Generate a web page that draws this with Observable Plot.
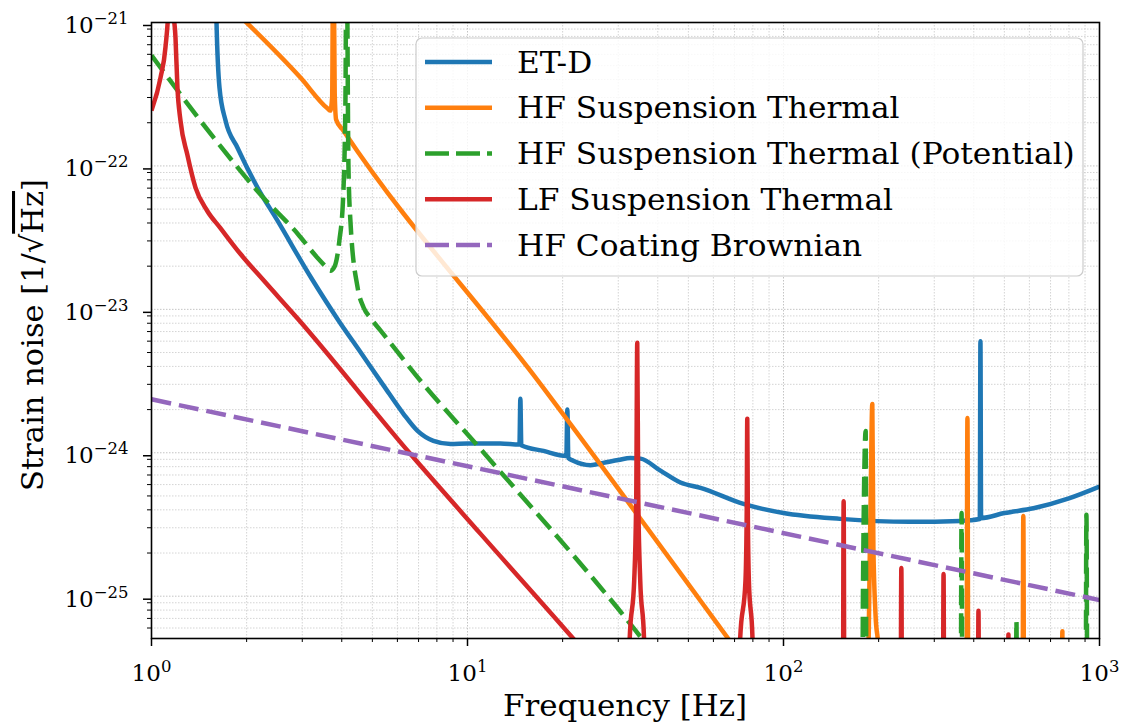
<!DOCTYPE html>
<html>
<head>
<meta charset="utf-8">
<script src="https://cdn.jsdelivr.net/npm/d3@7"></script>
<script src="https://cdn.jsdelivr.net/npm/@observablehq/plot@0.6"></script>
<style>
  html, body { margin: 0; padding: 0; background: #ffffff; }
  #chart svg { display: block; }
</style>
</head>
<body>
<div id="chart"></div>
<script>
// ---------- series metadata ----------
const seriesNames = [
  "ET-D",
  "HF Suspension Thermal",
  "HF Suspension Thermal (Potential)",
  "LF Suspension Thermal",
  "HF Coating Brownian"
];
const seriesColors = ["#1f77b4", "#ff7f0e", "#2ca02c", "#d62728", "#9467bd"];
const seriesDashed = [false, false, true, false, true];

// ---------- ET-D ----------
const etdFreq = [1.59, 1.606, 1.641, 1.715, 1.871, 2.165, 2.505, 3.2, 3.915, 4.6, 5.42, 6.27, 6.95, 7.8, 8.84, 10, 12.7,
  14.6, 14.7, 14.8, 17.4, 20.55, 20.7, 20.85, 21.6, 24.5, 26.9, 30, 32.8, 35.3, 40.8, 47.2, 54.6, 74.7, 100, 151, 250, 363,
  418, 420, 422, 500, 618, 800, 1000];
const etdStrain = [3e-21, 1.0e-21, 3.52e-22, 2.07e-22, 1.34e-22, 7.06e-23, 4.15e-23, 1.66e-23, 8.3e-24, 4.98e-24, 2.95e-24,
  1.87e-24, 1.42e-24, 1.21e-24, 1.15e-24, 1.16e-24, 1.16e-24,
  1.14e-24, 2.38e-24, 1.13e-24, 1.03e-24, 9.5e-25, 2.0e-24, 9.2e-25, 8.8e-25, 8.2e-25, 8.5e-25, 8.9e-25, 9.2e-25, 9.1e-25,
  7.5e-25, 6.2e-25, 5.7e-25, 4.4e-25, 3.8e-25, 3.46e-25, 3.3e-25, 3.35e-25,
  3.45e-25, 6.0e-24, 3.5e-25, 3.8e-25, 4.1e-25, 4.8e-25, 5.8e-25];

// ---------- HF Suspension Thermal ----------
const hfFreq = [1.8, 2.96, 3.61, 3.68, 3.73, 3.76, 3.80, 3.84, 4.05, 16.7, 54.6, 70, 90, 110,
  183, 186, 188.5, 191, 192.5, 195.5, 200, 210,
  378, 382, 386, 568, 574, 580, 755, 763, 771];
const hfStrain = [1.25e-21, 4.13e-22, 2.51e-22, 2.43e-22, 3.0e-22, 5e-21, 3.2e-22, 2.1e-22, 1.76e-22, 3.18e-24, 9.3e-26, 4.4e-26, 2.07e-26, 1e-28,
  1e-28, 5e-26, 4e-25, 2.19e-24, 2.2e-25, 7.5e-26, 4e-26, 1e-28,
  1e-28, 1.75e-24, 1e-28, 1e-28, 3.63e-25, 1e-28, 1e-28, 5.7e-26, 1e-28];

// ---------- HF Suspension Thermal (Potential) ----------
const potFreq = [1.0, 1.571, 2.26, 2.9, 3.35, 3.55, 3.68, 3.8, 3.93, 4.04, 4.11, 4.14, 4.2, 4.26, 4.49, 4.69, 4.93, 5.31,
  7.1, 11.0, 29.8, 40, 55, 70,
  176, 178.5, 182, 183.5, 362, 366, 370, 540, 546, 552, 900, 909, 918];
const potStrain = [5.9e-22, 1.58e-22, 6.0e-23, 3.37e-23, 2.29e-23, 2.0e-23, 1.86e-23, 2.0e-23, 3.0e-23, 6e-23, 3e-22, 5e-21,
  1.0e-22, 4.15e-23, 1.42e-23, 1.03e-23, 8.7e-24, 7.1e-24,
  3.18e-24, 1.06e-24, 8.3e-26, 3.7e-26, 1.63e-26, 1e-28,
  1e-28, 1.2e-25, 1.42e-24, 1e-28, 1e-28, 3.8e-25, 1e-28, 1e-28, 6.7e-26, 1e-28, 1e-28, 3.7e-25, 1e-28];

// ---------- LF Suspension Thermal ----------
const lfFreq = [1.0, 1.068, 1.107, 1.135, 1.148, 1.165, 1.191, 1.208, 1.235, 1.297, 1.378, 1.5, 1.65, 1.913, 2.27, 2.89,
  6.6, 11.0, 21.6, 25, 28,
  31, 32.6, 33.7, 34.2, 34.45, 34.7, 35.2, 36.2, 38,
  70, 72.9, 75.8, 76.5, 76.8, 77.1, 77.7, 79.8, 82,
  153.5, 155, 156.5, 233.5, 236, 238.5, 318, 321, 324, 410, 414, 418, 510, 515, 520];
const lfStrain = [2.43e-22, 4.13e-22, 6.7e-22, 1.5e-21, 8e-21, 1.5e-21, 7.86e-22, 3.52e-22, 2.07e-22, 1.21e-22, 7.06e-23,
  4.87e-23, 3.7e-23, 2.43e-23, 1.58e-23, 8.7e-24,
  9.8e-25, 2.72e-25, 5.07e-26, 3.5e-26, 2.6e-26,
  1e-28, 5e-26, 1.3e-25, 5e-25, 5.85e-24, 5e-25, 1.3e-25, 5e-26, 1e-28,
  1e-28, 5e-26, 1.28e-25, 4e-25, 1.73e-24, 4e-25, 1.28e-25, 5e-26, 1e-28,
  1e-28, 4.6e-25, 1e-28, 1e-28, 1.57e-25, 1e-28, 1e-28, 1.43e-25, 1e-28, 1e-28, 7.9e-26, 1e-28, 1e-28, 5.4e-26, 1e-28];

// ---------- HF Coating Brownian ----------
const coatFreq = [1, 1000];
const coatStrain = [2.36e-24, 9.4e-26];

// ---------- axes ----------
const xDomain = [1, 1000];
const yDomain = [5.07e-26, 1e-21];
const xMajorTicks = [1, 10, 100, 1000];
const yMajorTicks = [1e-25, 1e-24, 1e-23, 1e-22, 1e-21];
const xMinorTicks = [2, 3, 4, 5, 6, 7, 8, 9, 20, 30, 40, 50, 60, 70, 80, 90, 200, 300, 400, 500, 600, 700, 800, 900];
const yMinorTicks = [6e-26, 7e-26, 8e-26, 9e-26,
  2e-25, 3e-25, 4e-25, 5e-25, 6e-25, 7e-25, 8e-25, 9e-25,
  2e-24, 3e-24, 4e-24, 5e-24, 6e-24, 7e-24, 8e-24, 9e-24,
  2e-23, 3e-23, 4e-23, 5e-23, 6e-23, 7e-23, 8e-23, 9e-23,
  2e-22, 3e-22, 4e-22, 5e-22, 6e-22, 7e-22, 8e-22, 9e-22];
const xLabel = "Frequency [Hz]";
const yLabel = "Strain noise [1/√Hz]";

// ---------- build table ----------
const seriesFreq = [etdFreq, hfFreq, potFreq, lfFreq, coatFreq];
const seriesStrain = [etdStrain, hfStrain, potStrain, lfStrain, coatStrain];
const rows = [];
seriesNames.forEach((name, i) => {
  seriesFreq[i].forEach((f, j) => rows.push({series: name, f, v: seriesStrain[i][j]}));
});

const expFmt = d => "10^" + String(Math.round(Math.log10(d))).replace("-", "\u2212");

const lineMarks = seriesNames.map((name, i) =>
  Plot.line(rows.filter(r => r.series === name), {
    x: "f", y: "v",
    curve: "monotone-x",
    stroke: seriesColors[i],
    strokeWidth: 4.5,
    strokeLinejoin: "round",
    strokeLinecap: "butt",
    strokeDasharray: seriesDashed[i] ? "20,8" : null,
    clip: true
  })
);

const plot = Plot.plot({
  width: 1126,
  height: 724,
  marginLeft: 151,
  marginRight: 27,
  marginTop: 22,
  marginBottom: 86,
  style: {fontFamily: "'DejaVu Serif', serif", fontSize: "23px", background: "#ffffff", color: "#000000"},
  x: {type: "log", domain: xDomain},
  y: {type: "log", domain: yDomain},
  marks: [
    Plot.gridX({ticks: xMinorTicks, stroke: "#cfcfcf", strokeOpacity: 1, strokeWidth: 0.9, strokeDasharray: "1.5,1.5"}),
    Plot.gridY({ticks: yMinorTicks, stroke: "#cfcfcf", strokeOpacity: 1, strokeWidth: 0.9, strokeDasharray: "1.5,1.5"}),
    Plot.gridX({ticks: xMajorTicks, stroke: "#c4c4c4", strokeOpacity: 1, strokeWidth: 1, strokeDasharray: "1.5,1.5"}),
    Plot.gridY({ticks: yMajorTicks, stroke: "#c4c4c4", strokeOpacity: 1, strokeWidth: 1, strokeDasharray: "1.5,1.5"}),
    ...lineMarks,
    Plot.axisX({ticks: xMinorTicks, tickSize: 4, strokeWidth: 1, tickFormat: () => "", label: null}),
    Plot.axisY({ticks: yMinorTicks, tickSize: 4, strokeWidth: 1, tickFormat: () => "", label: null}),
    Plot.axisX({ticks: xMajorTicks, tickSize: 8, tickPadding: 18, strokeWidth: 1.5, tickFormat: expFmt, label: null}),
    Plot.axisY({ticks: yMajorTicks, tickSize: 8, tickPadding: 15, strokeWidth: 1.5, tickFormat: expFmt, label: null, dy: 3}),
    Plot.frame({stroke: "#000000", strokeWidth: 1.6})
  ]
});

document.getElementById("chart").appendChild(plot);

// ---------- superscript tick labels ----------
const svg = d3.select(plot);
svg.selectAll("text").each(function () {
  const m = /^10\^(.+)$/.exec(this.textContent);
  if (!m) return;
  while (this.firstChild) this.removeChild(this.firstChild);
  const t = d3.select(this).attr("font-size", 23);
  t.append("tspan").text("10");
  t.append("tspan").attr("dy", -9).attr("font-size", 16.5).text(m[1]);
});

// ---------- axis labels ----------
const lab = svg.append("g").style("fill", "#000").attr("font-family", "'DejaVu Serif', serif");
lab.append("text")
  .attr("transform", "translate(625,716) scale(1.065,1)")
  .attr("font-size", 29)
  .attr("text-anchor", "middle")
  .text(xLabel);
const yl = lab.append("text")
  .attr("transform", "translate(43,335) rotate(-90)")
  .attr("font-size", 30.5)
  .attr("text-anchor", "middle");
const sq = yLabel.indexOf("√");
yl.append("tspan").text(yLabel.slice(0, sq + 1));
yl.append("tspan").style("text-decoration", "overline").text(yLabel.slice(sq + 1, yLabel.length - 1));
yl.append("tspan").text(yLabel.slice(yLabel.length - 1));

// ---------- legend ----------
const lg = svg.append("g").attr("font-family", "'DejaVu Serif', serif");
lg.append("rect")
  .attr("x", 416).attr("y", 38).attr("width", 667).attr("height", 238)
  .attr("rx", 6)
  .style("fill", "rgba(255,255,255,0.82)")
  .style("stroke", "#cccccc").style("stroke-width", 1.2);
seriesNames.forEach((name, i) => {
  const cy = 62 + i * 45.75;
  lg.append("line")
    .attr("x1", 425).attr("x2", 492).attr("y1", cy).attr("y2", cy)
    .style("stroke", seriesColors[i]).style("stroke-width", 4.5)
    .style("stroke-dasharray", seriesDashed[i] ? "24,7" : "none");
  lg.append("text")
    .attr("transform", `translate(517,${cy + 10.5}) scale(1.06,1)`)
    .attr("font-size", 29.5)
    .attr("text-anchor", "start")
    .style("fill", "#000")
    .text(name);
});
</script>
</body>
</html>
